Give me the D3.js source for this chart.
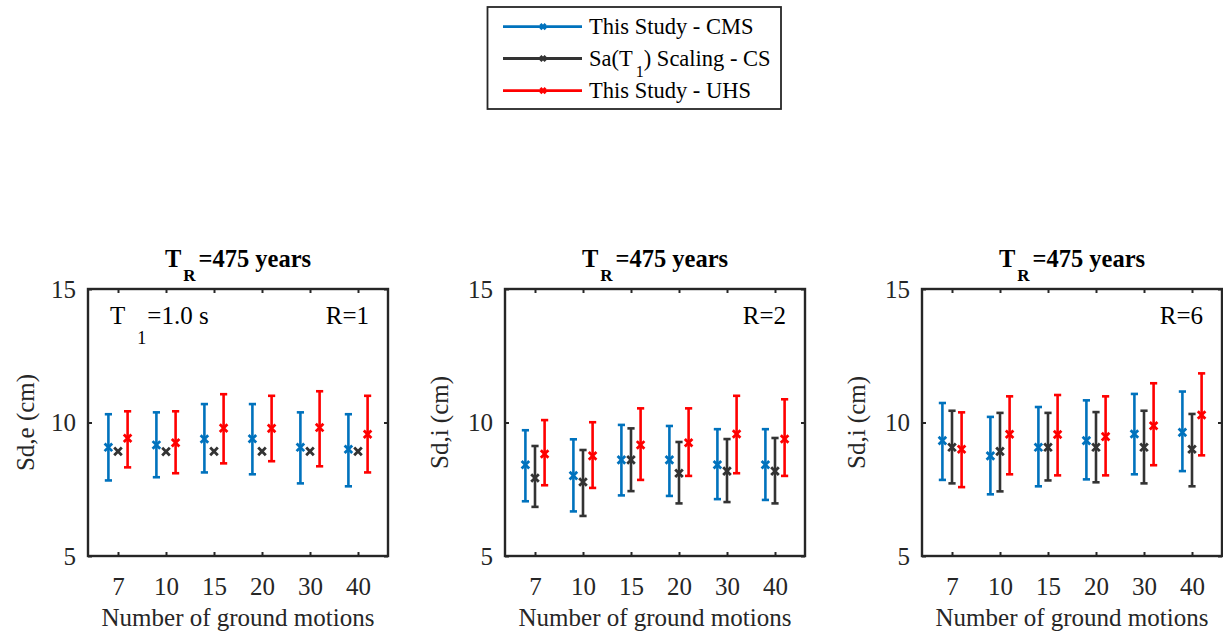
<!DOCTYPE html>
<html>
<head>
<meta charset="utf-8">
<script src="https://cdn.jsdelivr.net/npm/d3@7/dist/d3.min.js"></script>
<style>
  html, body { margin: 0; padding: 0; background: #ffffff; }
  svg text { font-family: "Liberation Serif", "Tinos", "Times New Roman", "DejaVu Serif", serif !important; }
</style>
</head>
<body>
<svg id="chart" width="1223" height="637"></svg>
<script>
// Number of ground motions in each record set
const groundMotions = [7, 10, 15, 20, 30, 40];
const yTicks = [5, 10, 15];
const seriesNames = ["This Study - CMS", "Sa(T1) Scaling - CS", "This Study - UHS"];
const seriesColors = ["#0072BD", "#333333", "#FF0000"];

// R = 1 (elastic displacement Sd,e)
const r1CmsMean = [9.07, 9.16, 9.38, 9.39, 9.07, 9.00];
const r1CmsLow  = [7.83, 7.95, 8.13, 8.06, 7.72, 7.61];
const r1CmsHigh = [10.31, 10.38, 10.69, 10.69, 10.38, 10.31];
const r1CsMean  = [8.92, 8.91, 8.92, 8.92, 8.92, 8.92];
const r1UhsMean = [9.41, 9.24, 9.79, 9.78, 9.81, 9.56];
const r1UhsLow  = [8.32, 8.10, 8.47, 8.55, 8.36, 8.13];
const r1UhsHigh = [10.42, 10.42, 11.06, 11.00, 11.17, 11.00];

// R = 2 (inelastic displacement Sd,i)
const r2CmsMean = [8.42, 8.01, 8.60, 8.60, 8.42, 8.42];
const r2CmsLow  = [7.05, 6.67, 7.27, 7.25, 7.13, 7.10];
const r2CmsHigh = [9.71, 9.37, 9.91, 9.87, 9.75, 9.75];
const r2CsMean  = [7.92, 7.77, 8.60, 8.10, 8.18, 8.18];
const r2CsLow   = [6.84, 6.50, 7.43, 6.97, 7.02, 6.97];
const r2CsHigh  = [9.12, 8.97, 9.78, 9.27, 9.38, 9.42];
const r2UhsMean = [8.82, 8.75, 9.16, 9.24, 9.57, 9.38];
const r2UhsLow  = [7.65, 7.55, 7.85, 8.00, 8.10, 8.00];
const r2UhsHigh = [10.09, 10.01, 10.53, 10.53, 11.00, 10.87];

// R = 6 (inelastic displacement Sd,i)
const r6CmsMean = [9.32, 8.75, 9.07, 9.32, 9.57, 9.63];
const r6CmsLow  = [7.85, 7.31, 7.61, 7.87, 8.06, 8.18];
const r6CmsHigh = [10.73, 10.21, 10.58, 10.83, 11.07, 11.16];
const r6CsMean  = [9.07, 8.92, 9.07, 9.07, 9.07, 9.00];
const r6CsLow   = [7.72, 7.42, 7.83, 7.76, 7.72, 7.61];
const r6CsHigh  = [10.44, 10.36, 10.36, 10.39, 10.44, 10.32];
const r6UhsMean = [9.00, 9.56, 9.55, 9.47, 9.88, 10.28];
const r6UhsLow  = [7.58, 8.06, 8.02, 8.02, 8.40, 8.77];
const r6UhsHigh = [10.38, 10.98, 11.03, 10.98, 11.47, 11.84];

const panels = [
  { left: 88, ylabel: "Sd,e (cm)", ylabelOffset: -54, rText: "R=1", period: true,
    series: [
      { mean: r1CmsMean, low: r1CmsLow, high: r1CmsHigh },
      { mean: r1CsMean, low: null, high: null },
      { mean: r1UhsMean, low: r1UhsLow, high: r1UhsHigh }
    ] },
  { left: 505, ylabel: "Sd,i (cm)", ylabelOffset: -57, rText: "R=2", period: false,
    series: [
      { mean: r2CmsMean, low: r2CmsLow, high: r2CmsHigh },
      { mean: r2CsMean, low: r2CsLow, high: r2CsHigh },
      { mean: r2UhsMean, low: r2UhsLow, high: r2UhsHigh }
    ] },
  { left: 922, ylabel: "Sd,i (cm)", ylabelOffset: -57, rText: "R=6", period: false,
    series: [
      { mean: r6CmsMean, low: r6CmsLow, high: r6CmsHigh },
      { mean: r6CsMean, low: r6CsLow, high: r6CsHigh },
      { mean: r6UhsMean, low: r6UhsLow, high: r6UhsHigh }
    ] }
];

const svg = d3.select("#chart");
const axisColor = "#262626";
const plotW = 300, plotTop = 289, plotBottom = 556;
const seriesShift = [-0.2, 0, 0.2];
const fontSize = 25;

function xMark(sel, x, y, color, r) {
  sel.append("path")
    .attr("d", `M${x - r},${y - r}L${x + r},${y + r}M${x - r},${y + r}L${x + r},${y - r}`)
    .attr("stroke", color).attr("stroke-width", 2.8).attr("fill", "none");
}

panels.forEach(p => {
  const g = svg.append("g");
  const x = d3.scaleLinear().domain([0.375, 6.625]).range([p.left, p.left + plotW]);
  const y = d3.scaleLinear().domain([5, 15]).range([plotBottom, plotTop]);
  const idx = groundMotions.map((d, i) => i + 1);

  // error bars and markers
  p.series.forEach((s, si) => {
    const color = seriesColors[si];
    const sg = g.append("g");
    s.mean.forEach((m, i) => {
      const cx = x(idx[i] + seriesShift[si]);
      if (s.low && s.high) {
        const y0 = y(s.low[i]), y1 = y(s.high[i]);
        sg.append("line").attr("x1", cx).attr("x2", cx).attr("y1", y0).attr("y2", y1)
          .attr("stroke", color).attr("stroke-width", 2.6);
        [y0, y1].forEach(yy => {
          sg.append("line").attr("x1", cx - 3.6).attr("x2", cx + 3.6).attr("y1", yy).attr("y2", yy)
            .attr("stroke", color).attr("stroke-width", 2.6);
        });
      }
      xMark(sg, cx, y(m), color, 3.8);
    });
  });

  // axes box with inward ticks on all sides
  const xAxisB = d3.axisBottom(x).tickValues(idx).tickSize(-4).tickPadding(21)
    .tickFormat((d, i) => groundMotions[i]);
  const xAxisT = d3.axisTop(x).tickValues(idx).tickSize(-4).tickFormat("");
  const yAxisL = d3.axisLeft(y).tickValues(yTicks).tickSize(-4).tickPadding(12);
  const yAxisR = d3.axisRight(y).tickValues(yTicks).tickSize(-4).tickFormat("");

  const styleAxis = a => {
    a.attr("font-family", null).attr("font-size", null);
    a.select(".domain").remove();
    a.selectAll(".tick line").attr("stroke", axisColor).attr("stroke-width", 2);
    a.selectAll(".tick text").attr("fill", axisColor).style("font-size", fontSize + "px");
  };
  g.append("g").attr("transform", `translate(0,${plotBottom})`).call(xAxisB).call(styleAxis);
  g.append("g").attr("transform", `translate(0,${plotTop})`).call(xAxisT).call(styleAxis);
  g.append("g").attr("transform", `translate(${p.left},0)`).call(yAxisL).call(styleAxis);
  g.append("g").attr("transform", `translate(${p.left + plotW},0)`).call(yAxisR).call(styleAxis);

  g.append("rect").attr("x", p.left).attr("y", plotTop).attr("width", plotW).attr("height", plotBottom - plotTop)
    .attr("fill", "none").attr("stroke", axisColor).attr("stroke-width", 2.4);

  // title
  const cx = p.left + plotW / 2;
  const title = g.append("text").attr("x", cx).attr("y", 266.5).attr("text-anchor", "middle")
    .attr("font-weight", "bold").attr("fill", "#000").style("font-size", "24.5px");
  title.append("tspan").text("T");
  title.append("tspan").attr("dx", 2).attr("dy", 14).style("font-size", "17px").text("R");
  title.append("tspan").attr("dx", 3).attr("dy", -14).text("=475 years");

  // x label
  g.append("text").attr("x", cx).attr("y", 626).attr("text-anchor", "middle")
    .attr("fill", axisColor).style("font-size", fontSize + "px").text("Number of ground motions");

  // y label
  g.append("text").attr("transform", `translate(${p.left + p.ylabelOffset},${y(10)}) rotate(-90)`)
    .attr("text-anchor", "middle").attr("fill", axisColor).style("font-size", fontSize + "px")
    .text(p.ylabel);

  // annotations
  g.append("text").attr("x", p.left + plotW - 19).attr("y", 323.5).attr("text-anchor", "end")
    .attr("fill", "#000").style("font-size", fontSize + "px").text(p.rText);
  if (p.period) {
    const t = g.append("text").attr("x", p.left + 22).attr("y", 323.5).attr("fill", "#000")
      .style("font-size", fontSize + "px");
    t.append("tspan").text("T");
    t.append("tspan").attr("dx", 12).attr("dy", 20).style("font-size", "18px").text("1");
    t.append("tspan").attr("dx", 1).attr("dy", -20).text("=1.0 s");
  }
});

// legend
const legend = svg.append("g");
legend.append("rect").attr("x", 487.5).attr("y", 7).attr("width", 293.5).attr("height", 102)
  .attr("fill", "#fff").attr("stroke", axisColor).attr("stroke-width", 1.8);
const rowY = [26.7, 58.5, 90.7];
seriesNames.forEach((name, i) => {
  const ly = rowY[i];
  legend.append("line").attr("x1", 503).attr("x2", 582).attr("y1", ly).attr("y2", ly)
    .attr("stroke", seriesColors[i]).attr("stroke-width", 2.8);
  xMark(legend, 543, ly, seriesColors[i], 2.6);
  const t = legend.append("text").attr("x", 589).attr("y", ly + 7).attr("fill", "#000")
    .style("font-size", "22.5px");
  if (name.indexOf("(T1)") >= 0) {
    t.append("tspan").text("Sa(T");
    t.append("tspan").attr("dx", 3).attr("dy", 11).style("font-size", "16px").text("1");
    t.append("tspan").attr("dy", -11).text(") Scaling - CS");
  } else {
    t.text(name);
  }
});
</script>
</body>
</html>
